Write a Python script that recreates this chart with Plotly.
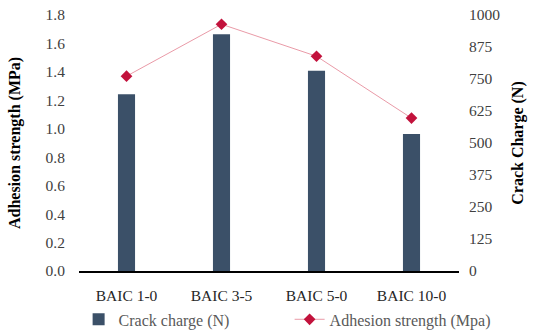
import plotly.graph_objects as go

categories = ["BAIC 1-0", "BAIC 3-5", "BAIC 5-0", "BAIC 10-0"]
crack_charge_n = [690, 925, 782, 535]
adhesion_mpa = [1.37, 1.735, 1.51, 1.075]

left_ticks = [0, 0.2, 0.4, 0.6, 0.8, 1.0, 1.2, 1.4, 1.6, 1.8]
right_ticks = [0, 125, 250, 375, 500, 625, 750, 875, 1000]

FONT = "Liberation Serif, Times New Roman, serif"

fig = go.Figure()
fig.add_trace(go.Bar(
    x=categories, y=crack_charge_n, name="Crack charge (N)",
    marker=dict(color="#3b5068", line=dict(width=0)),
    width=0.18, yaxis="y2",
))
fig.add_trace(go.Scatter(
    x=categories, y=adhesion_mpa, name="Adhesion strength (Mpa)",
    mode="lines+markers",
    line=dict(color="rgba(225,120,138,0.75)", width=1),
    marker=dict(symbol="diamond", size=9, color="#c2123c"),
    yaxis="y",
))

fig.update_layout(
    width=550, height=336,
    margin=dict(l=79, r=91, t=15, b=64.5, autoexpand=False),
    paper_bgcolor="white", plot_bgcolor="white",
    font=dict(family=FONT, color="#404040", size=15),
    showlegend=True,
    legend=dict(orientation="h", x=-0.001, xanchor="left", y=-0.189, yanchor="middle",
                font=dict(size=16, color="#595959", family=FONT),
                entrywidth=166, entrywidthmode="pixels",
                traceorder="normal", bgcolor="rgba(0,0,0,0)"),
    xaxis=dict(showgrid=False, showline=True, linecolor="#000000", linewidth=1.5,
               ticks="outside", ticklen=10, tickcolor="rgba(0,0,0,0)",
               tickfont=dict(size=15.5, color="#262626", family=FONT), zeroline=False),
    yaxis=dict(range=[0, 1.8], tickvals=left_ticks, tickformat=".1f",
               showgrid=False, showline=False, zeroline=False,
               ticks="outside", ticklen=10, tickcolor="rgba(0,0,0,0)",
               tickfont=dict(size=15.5, color="#404040", family=FONT),
               title=dict(text="<b>Adhesion strength (MPa)</b>",
                          font=dict(size=16, color="#000000", family=FONT), standoff=20)),
    yaxis2=dict(range=[0, 1000], tickvals=right_ticks, overlaying="y", side="right",
                showgrid=False, showline=False, zeroline=False,
                ticks="outside", ticklen=6, tickcolor="rgba(0,0,0,0)",
                tickfont=dict(size=15.5, color="#404040", family=FONT),
                title=dict(text="<b>Crack Charge (N)</b>",
                           font=dict(size=16, color="#000000", family=FONT), standoff=12)),
    bargap=0.82,
)

fig.write_html("out.html", config={"displayModeBar": False},
               post_script="document.body.style.margin='0';")
